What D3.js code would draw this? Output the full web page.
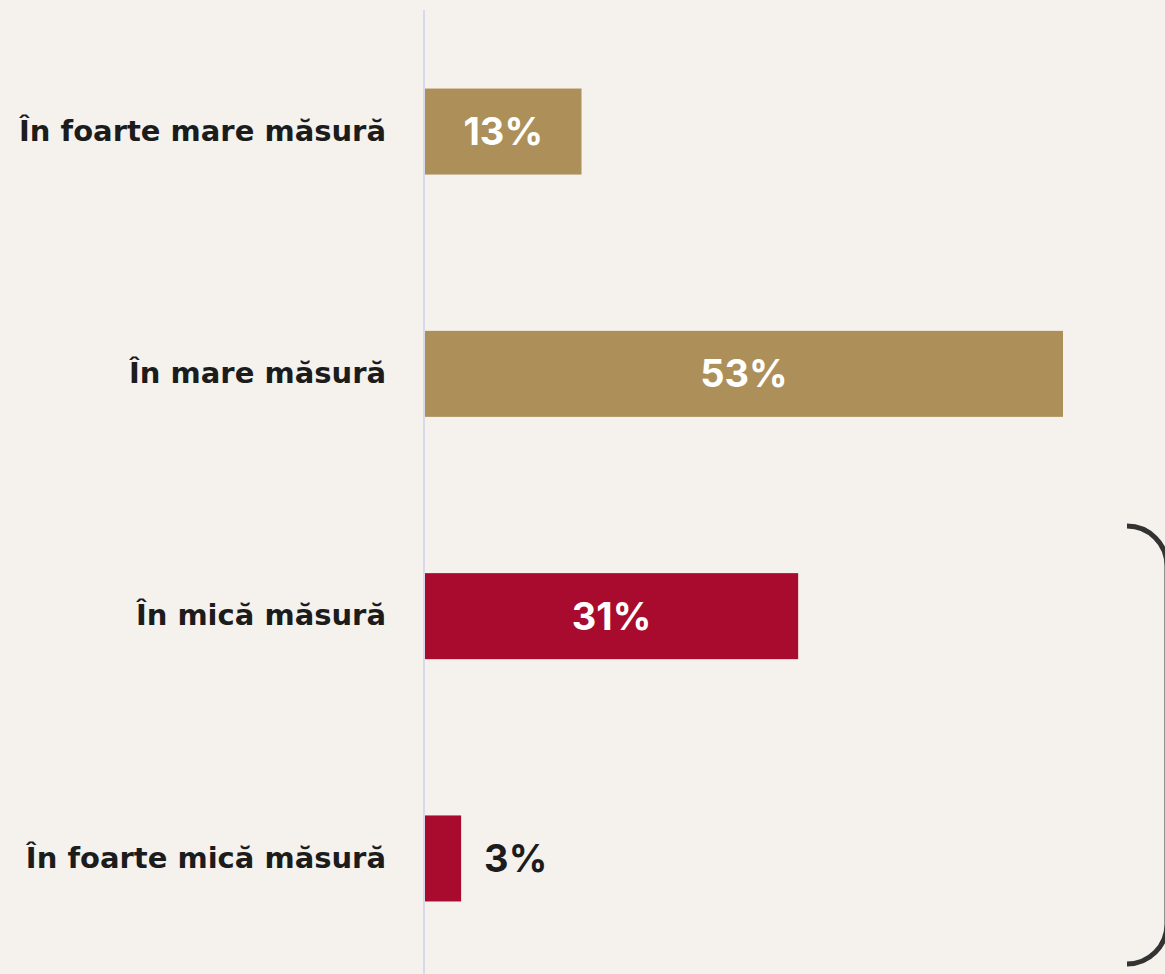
<!DOCTYPE html>
<html>
<head>
<meta charset="utf-8">
<script src="https://cdn.jsdelivr.net/npm/d3@7"></script>
<style>
  body { margin: 0; background: #f5f2ee; }
  svg text { font-family: "Inter", "Open Sans", sans-serif; font-weight: 700; }
  svg text.cat { font-family: "DejaVu Sans", sans-serif; }
</style>
</head>
<body>
<div id="chart"></div>
<script>
// Chart data
var categories = ["În foarte mare măsură", "În mare măsură", "În mică măsură", "În foarte mică măsură"];
var values = [13, 53, 31, 3];
var colors = ["#ad8f5a", "#ad8f5a", "#a90b2f", "#a90b2f"];

var svgWidth = 1165;
var svgHeight = 974;

var margin = { top: 10, right: 0, bottom: 0, left: 425 };

var svg = d3.select("#chart")
  .append("svg")
  .attr("width", svgWidth)
  .attr("height", svgHeight);

svg.append("rect")
  .attr("width", svgWidth)
  .attr("height", svgHeight)
  .attr("fill", "#f5f2ee");

var chartGroup = svg.append("g")
  .attr("transform", `translate(${margin.left}, ${margin.top})`);

// Scales
var xScale = d3.scaleLinear()
  .domain([0, 53])
  .range([0, 638]);

var yScale = d3.scaleBand()
  .domain(categories)
  .range([0, 968])
  .paddingInner(0.645)
  .paddingOuter(0.32);

// Bars
chartGroup.selectAll(".bar")
  .data(values)
  .enter()
  .append("rect")
  .attr("class", "bar")
  .attr("x", 0)
  .attr("y", (d, i) => yScale(categories[i]) + 1)
  .attr("width", d => xScale(d))
  .attr("height", yScale.bandwidth())
  .attr("fill", (d, i) => colors[i]);

// Axis line
chartGroup.append("line")
  .attr("x1", -1).attr("x2", -1)
  .attr("y1", 0).attr("y2", svgHeight)
  .attr("stroke", "#d9d9ec")
  .attr("stroke-width", 2);

// Category labels
chartGroup.selectAll(".cat")
  .data(categories)
  .enter()
  .append("text")
  .attr("class", "cat")
  .attr("x", -39)
  .attr("y", d => yScale(d) + yScale.bandwidth() / 2)
  .attr("dy", "0.35em")
  .attr("text-anchor", "end")
  .attr("font-size", 29)
  .attr("fill", "#1c1c1c")
  .text(d => d);

// Value labels
chartGroup.selectAll(".val")
  .data(values)
  .enter()
  .append("text")
  .attr("class", "val")
  .attr("x", d => d < 8 ? xScale(d) + 23 : xScale(d) / 2)
  .attr("y", (d, i) => yScale(categories[i]) + yScale.bandwidth() / 2)
  .attr("dy", "0.38em")
  .attr("text-anchor", d => d < 8 ? "start" : "middle")
  .attr("font-size", 38)
  .attr("fill", d => d < 8 ? "#1c1c1c" : "#ffffff")
  .text(d => d + "%");

// Bracket on the right
var bracket = d3.path();
bracket.moveTo(1127, 526);
bracket.arc(1127, 566, 40, -Math.PI / 2, 0);
bracket.lineTo(1167, 924);
bracket.arc(1127, 924, 40, 0, Math.PI / 2);
svg.append("path")
  .attr("d", bracket.toString())
  .attr("fill", "none")
  .attr("stroke", "#333333")
  .attr("stroke-width", 5);
</script>
</body>
</html>
